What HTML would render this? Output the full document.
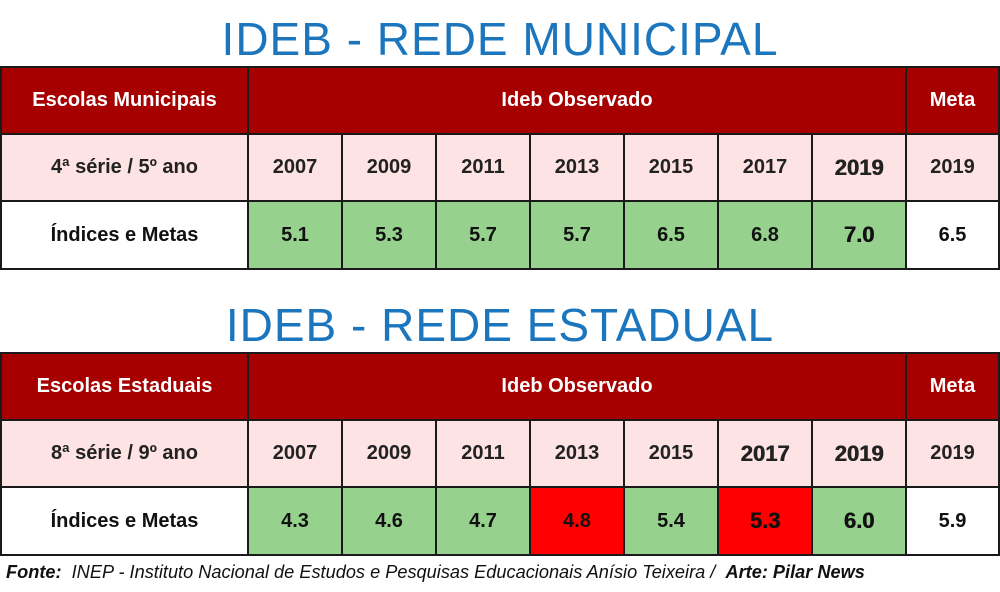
<!DOCTYPE html><html><head><style>
body{margin:0;width:1000px;height:592px;background:#fff;position:relative;overflow:hidden;font-family:"Liberation Sans",Arial,sans-serif}
.t{position:absolute;left:0;width:1000px;text-align:center;color:#1b76bd;font-size:46px;letter-spacing:1px}
.c{position:absolute;box-sizing:border-box;border:2px solid #1a1a1a;display:flex;align-items:center;justify-content:center;font-weight:bold;font-size:20px;color:#222}
.h{background:#a60000;color:#fff}
.p{background:#fde3e3}
.g{background:#96d28d;color:#111}
.r{background:#ff0000;color:#111}
.w{background:#fff;color:#111}
.f{position:absolute;left:6px;top:562px;font-size:18px;font-style:italic;color:#111;transform:scaleX(1.01);transform-origin:left;white-space:nowrap}
</style></head><body>
<div class="t" style="top:12px">IDEB - REDE MUNICIPAL</div>
<div class="t" style="top:298px">IDEB - REDE ESTADUAL</div>
<div id="a"></div>
<script>
const xs=[0,247,341,435,529,623,717,811,905,1000];
function tbl(y,lbl,ser,vals,cls,bold){
 let h='';const R=[y,y+67,y+134,y+202];
 const cell=(x1,x2,y1,y2,c,t,s)=>`<div class="c ${c}" style="left:${x1}px;top:${y1}px;width:${x2-x1+2}px;height:${y2-y1+2}px;${s||''}">${t}</div>`;
 h+=cell(0,247,R[0],R[1],'h',lbl);h+=cell(247,905,R[0],R[1],'h','Ideb Observado');h+=cell(905,998,R[0],R[1],'h','Meta');
 h+=cell(0,247,R[1],R[2],'p',ser);
 const yrs=['2007','2009','2011','2013','2015','2017','2019','2019'];
 const B='font-size:22px;font-weight:900;text-shadow:0.6px 0 0 currentColor';
 for(let i=0;i<8;i++){const x2=i==7?998:xs[i+2];h+=cell(xs[i+1],x2,R[1],R[2],'p',yrs[i],bold.includes(i)?B:'');}
 h+=cell(0,247,R[2],R[3],'w','Índices e Metas');
 for(let i=0;i<8;i++){const x2=i==7?998:xs[i+2];h+=cell(xs[i+1],x2,R[2],R[3],cls[i],vals[i],bold.includes(i)&&i!=7?B:'');}
 return h;}
document.getElementById('a').innerHTML=
tbl(66,'Escolas Municipais','4ª série / 5º ano',['5.1','5.3','5.7','5.7','6.5','6.8','7.0','6.5'],['g','g','g','g','g','g','g','w'],[6])+
tbl(352,'Escolas Estaduais','8ª série / 9º ano',['4.3','4.6','4.7','4.8','5.4','5.3','6.0','5.9'],['g','g','g','r','g','r','g','w'],[5,6]);
</script>
<div class="f"><b>Fonte:</b>&nbsp; INEP - Instituto Nacional de Estudos e Pesquisas Educacionais Anísio Teixeira / &nbsp;<b>Arte: Pilar News</b></div>
</body></html>
